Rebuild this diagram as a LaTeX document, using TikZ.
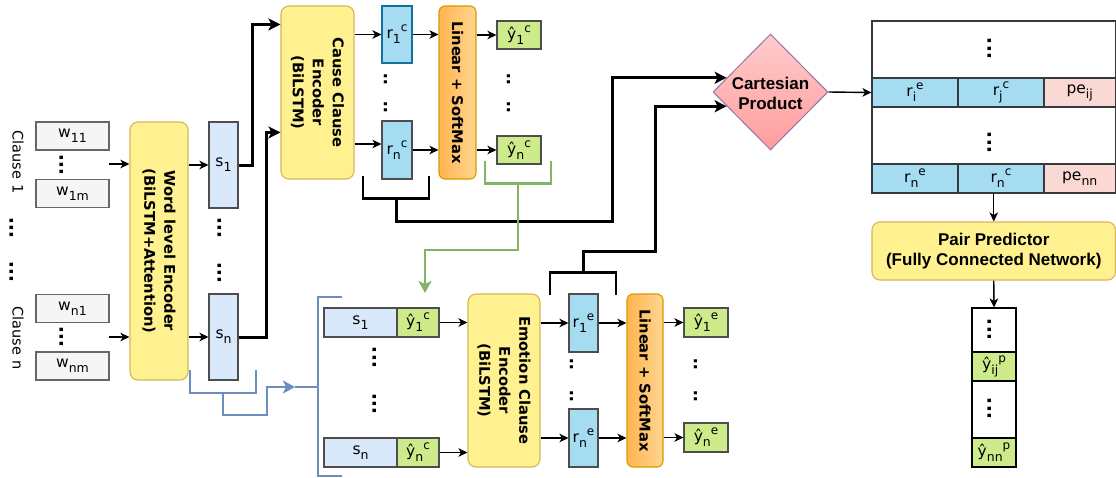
\documentclass[tikz,border=0pt]{standalone}
\usepackage{fontspec}
\setmainfont{DejaVu Sans}
\newfontfamily\helv{Liberation Sans}
\usetikzlibrary{arrows.meta,shapes.geometric,calc}
\definecolor{wfill}{HTML}{F5F5F5}
\definecolor{wdraw}{HTML}{666666}
\definecolor{sfill}{HTML}{DAE8FC}
\definecolor{dgray}{HTML}{4D4D4D}
\definecolor{rfill}{HTML}{A5DCF2}
\definecolor{rdraw}{HTML}{10739E}
\definecolor{gfill}{HTML}{CDEB8B}
\definecolor{gdraw}{HTML}{36393D}
\definecolor{pefill}{HTML}{FAD9D5}
\definecolor{yfill}{HTML}{FFF18F}
\definecolor{ydraw}{HTML}{D6B656}
\definecolor{oleft}{HTML}{FFB54F}
\definecolor{oright}{HTML}{FFD590}
\definecolor{odraw}{HTML}{D79B00}
\definecolor{ctop}{HTML}{FFCCCC}
\definecolor{cbot}{HTML}{FF9C9C}
\definecolor{cdraw}{HTML}{9673A6}
\definecolor{bline}{HTML}{6C8EBF}
\definecolor{gline}{HTML}{82B366}
\newcommand\mysub[1]{\raisebox{-0.32em}{\fontsize{12.5}{12.5}\selectfont #1}}
\newcommand\mysup[1]{\raisebox{0.45em}{\fontsize{12}{12}\selectfont #1}}
\tikzset{
  lbl/.style={font=\fontsize{15.5}{18}\selectfont, inner sep=0},
  clbl/.style={font=\fontsize{14.5}{18}\selectfont, inner sep=0},
  box/.style={lbl, line width=1.1, minimum width=#1},
  wbox/.style={box=73, draw=wdraw, fill=wfill, minimum height=28},
  sbox/.style={box=29, draw=dgray, fill=sfill},
  rbox/.style={box=30, draw=dgray, fill=rfill},
  gbox/.style={box=44, draw=dgray, fill=gfill, minimum height=29},
  ybox/.style={draw=ydraw, fill=yfill, line width=1.1, rounded corners=8, inner sep=0},
  obox/.style={draw=odraw, left color=oleft, right color=oright, line width=1.1, rounded corners=6, inner sep=0},
  btxt/.style={font=\bfseries\fontsize{14.7}{20}\selectfont, align=center, rotate=-90, inner sep=0},
  htxt/.style={font=\helv\bfseries\fontsize{17}{20}\selectfont, align=center, inner sep=0},
  vdot/.style={font=\bfseries\fontsize{19}{19}\selectfont, rotate=90, inner sep=0},
  cdot/.style={font=\bfseries\fontsize{17}{17}\selectfont, rotate=90, inner sep=0},
  arr/.style={line width=1.4, -{Stealth[length=9pt,width=8.5pt,inset=2.5pt]}},
  tarr/.style={line width=3, -{Stealth[length=12pt,width=12pt,inset=3pt]}},
  brk/.style={line width=2.8},
  gbrk/.style={line width=2.6, draw=gline},
  garr/.style={line width=2.6, draw=gline, -{Stealth[length=12pt,width=13pt,inset=3pt]}, color=gline},
  bbrk/.style={line width=2.6, draw=bline},
  barr/.style={line width=2.6, draw=bline, -{Stealth[length=12pt,width=13pt,inset=3pt]}, color=bline},
}
\begin{document}
\begin{tikzpicture}[x=1pt,y=-1pt]
\useasboundingbox (0,0) rectangle (1116,477);

% ---- clauses
\node[clbl, rotate=-90] (cl1) at (18,162) {Clause 1};
\node[clbl, rotate=-90] (cln) at (18,338) {Clause n};
\node[vdot] (ld1) at (12,228) {...};
\node[vdot] (ld2) at (12,272) {...};
\node[wbox] (w11) at (72.5,136) {w\mysub{11}};
\node[wbox] (w1m) at (72.5,193.5) {w\mysub{1m}};
\node[wbox] (wn1) at (72.5,308.5) {w\mysub{n1}};
\node[wbox] (wnm) at (72.5,366) {w\mysub{nm}};
\node[vdot] (wd1) at (62,165) {...};
\node[vdot] (wd2) at (62,337) {...};

% ---- word level encoder
\node[ybox, minimum width=58, minimum height=258] (wenc) at (159,251) {};
\node[btxt] (wenct) at (wenc.center) {Word level Encoder\\(BiLSTM+Attention)};
\node[sbox, minimum height=86] (s1) at (223.5,165) {s\mysub{1}};
\node[sbox, minimum height=86] (sn) at (223.5,337) {s\mysub{n}};
\node[vdot] (sd1) at (220,228) {...};
\node[vdot] (sd2) at (220,273) {...};

% ---- cause branch
\node[ybox, minimum width=73, minimum height=173] (cause) at (317.5,92.5) {};
\node[btxt] (causet) at (cause.center) {Cause Clause\\Encoder\\(BiLSTM)};
\node[rbox, draw=rdraw, minimum height=57] (r1c) at (397,34.5) {r\mysub{1}\mysup{c}};
\node[rbox, minimum height=58] (rnc) at (397,150) {r\mysub{n}\mysup{c}};
\node[cdot] (rcd1) at (386,79.5) {..};
\node[cdot] (rcd2) at (386,107.5) {..};
\node[obox, minimum width=37, minimum height=173] (lin1) at (457.5,92.5) {};
\node[btxt] (lin1t) at (lin1.center) {Linear + SoftMax};
\node[gbox, minimum height=28] (y1c) at (519,35) {ŷ\mysub{1}\mysup{c}};
\node[gbox, minimum height=28] (ync) at (519,150) {ŷ\mysub{n}\mysup{c}};
\node[cdot] (ycd1) at (509,79.5) {..};
\node[cdot] (ycd2) at (509,107.5) {..};

% ---- cartesian product
\node[diamond, draw=cdraw, top color=ctop, bottom color=cbot, line width=1, minimum width=115, minimum height=116, inner sep=0] (cart) at (770.5,92) {};
\node[htxt] (cartt) at (770.5,93) {Cartesian\\Product};

% ---- pair table
\node[draw=gdraw, fill=white, line width=1.1, minimum width=243.5, minimum height=172, inner sep=0] (tbl) at (993.75,107) {};
\node[box=86, draw=gdraw, fill=rfill, minimum height=29] (rie) at (915,92.5) {r\mysub{i}\mysup{e}};
\node[box=86, draw=gdraw, fill=rfill, minimum height=29] (rjc) at (1001,92.5) {r\mysub{j}\mysup{c}};
\node[box=71.5, draw=gdraw, fill=pefill, minimum height=29] (peij) at (1079.75,92.5) {pe\mysub{ij}};
\node[box=86, draw=gdraw, fill=rfill, minimum height=29] (rne2) at (915,178.5) {r\mysub{n}\mysup{e}};
\node[box=86, draw=gdraw, fill=rfill, minimum height=29] (rnc2) at (1001,178.5) {r\mysub{n}\mysup{c}};
\node[box=71.5, draw=gdraw, fill=pefill, minimum height=29] (penn) at (1079.75,178.5) {pe\mysub{nn}};
\node[vdot] (td1) at (990,48.5) {...};
\node[vdot] (td2) at (990,142.5) {...};

% ---- pair predictor
\node[ybox, minimum width=243.5, minimum height=58] (pp) at (993.75,251) {};
\node[htxt] (ppt) at (pp.center) {Pair Predictor\\(Fully Connected Network)};
\node[box=44, draw=black, fill=white, minimum height=44] (pc1) at (994,330) {};
\node[box=44, draw=black, fill=gfill, minimum height=29] (pc2) at (994,366.5) {ŷ\mysub{ij}\mysup{p}};
\node[box=44, draw=black, fill=white, minimum height=57] (pc3) at (994,409.5) {};
\node[box=44, draw=black, fill=gfill, minimum height=29] (pc4) at (994,452.5) {ŷ\mysub{nn}\mysup{p}};
\node[vdot] (pd1) at (990,329.5) {...};
\node[vdot] (pd2) at (990,408.5) {...};

% ---- emotion branch
\node[sbox, minimum width=73, minimum height=29] (bs1) at (360.5,322.5) {s\mysub{1}};
\node[gbox, minimum width=42] (by1) at (418,322.5) {ŷ\mysub{1}\mysup{c}};
\node[sbox, minimum width=73, minimum height=29] (bsn) at (360.5,452.5) {s\mysub{n}};
\node[gbox, minimum width=42] (byn) at (418,452.5) {ŷ\mysub{n}\mysup{c}};
\node[vdot] (bd1) at (375,357.5) {...};
\node[vdot] (bd2) at (375,404) {...};
\node[ybox, minimum width=72, minimum height=173] (emo) at (504,380.5) {};
\node[btxt] (emot) at (emo.center) {Emotion Clause\\Encoder\\(BiLSTM)};
\node[rbox, minimum width=29, minimum height=58] (r1e) at (583.5,323) {r\mysub{1}\mysup{e}};
\node[rbox, minimum width=29, minimum height=58] (rne) at (583.5,438) {r\mysub{n}\mysup{e}};
\node[cdot] (red1) at (572,364) {..};
\node[cdot] (red2) at (572,396) {..};
\node[obox, minimum width=36, minimum height=173] (lin2) at (645,380.5) {};
\node[btxt] (lin2t) at (lin2.center) {Linear + SoftMax};
\node[gbox] (y1e) at (706,322.5) {ŷ\mysub{1}\mysup{e}};
\node[gbox] (yne) at (706,437.5) {ŷ\mysub{n}\mysup{e}};
\node[cdot] (yed1) at (696,364) {..};
\node[cdot] (yed2) at (696,396) {..};

% ---- connectors (left)
\coordinate (c1) at (109,164);
\coordinate (cn) at (109,337);
\draw[arr] (c1) -- (c1 -| wenc.west);
\draw[arr] (cn) -- (cn -| wenc.west);
\draw[arr] (wenc.east |- s1) -- (s1.west);
\draw[arr] (wenc.east |- sn) -- (sn.west);
\draw[tarr] (s1.east) -- ++(14,0) |- ($(cause.north west)+(0,19)$);
\draw[tarr] (sn.east) -- ++(28,0) |- ($(cause.north west)+(0,127)$);

% cause
\draw[arr] (cause.east |- r1c) -- (r1c.west);
\draw[arr] ($(cause.east |- rnc)+(0,-6)$) -- ($(rnc.west)+(0,-6)$);
\draw[arr] (r1c.east) -- (r1c.east -| lin1.west);
\draw[arr] (rnc.east) -- (rnc.east -| lin1.west);
\draw[arr] (lin1.east |- y1c) -- (y1c.west);
\draw[arr] (lin1.east |- ync) -- (ync.west);

% cause bracket -> cartesian
\draw[brk] ($(rnc.south)+(-34,-4)$) -- ++(0,23) -- ++(66,0) -- ++(0,-23);
\coordinate (cbr) at ($(rnc.south)+(-1,19)$);
\coordinate (cv1) at (612,221);
\draw[tarr] (cbr) |- (cv1) |- (cart.162);

% emotion bracket -> cartesian
\draw[brk] ($(r1e.north)+(-33.5,2)$) -- ++(0,-23) -- ++(66,0) -- ++(0,23);
\coordinate (ebr) at ($(r1e.north)+(-0.5,-21)$);
\coordinate (ev1) at (655,251);
\draw[tarr] (ebr) |- (ev1) |- (cart.198);

% right side
\draw[arr] (cart.east) -- (rie.west);
\draw[arr] (tbl.south) -- (pp.north);
\draw[arr] (pp.south) -- (pc1.north);

% green feedback
\draw[gbrk] ($(ync.south)+(-34,-4)$) -- ++(0,23) -- ++(66,0) -- ++(0,-23);
\coordinate (gst) at ($(ync.south)+(-1,19)$);
\coordinate (gv) at (518,250);
\coordinate (gend) at (425,293);
\draw[garr] (gst) -- (gv) -| (gend);

% blue feedback
\draw[bbrk] (190,370) -- (190,393) -- (256,393) -- (256,370);
\coordinate (bst) at (223,393);
\coordinate (bv1) at (223,415);
\coordinate (bv2) at (267,387);
\coordinate (bend) at (295,387);
\draw[barr] (bst) -- (bv1) -| (bv2) -- (bend);
\draw[bbrk] (342,297) -- (318,297) -- (318,476) -- (342,476);
\draw[bbrk] (bend) -- (318,387);

% emotion arrows
\draw[arr] (by1.east) -- (by1.east -| emo.west);
\draw[arr] (byn.east) -- (byn.east -| emo.west);
\draw[arr] (emo.east |- r1e) -- (r1e.west);
\draw[arr] (emo.east |- rne) -- (rne.west);
\draw[arr] (r1e.east) -- (r1e.east -| lin2.west);
\draw[arr] (rne.east) -- (rne.east -| lin2.west);
\draw[arr] (lin2.east |- y1e) -- (y1e.west);
\draw[arr] (lin2.east |- yne) -- (yne.west);
\end{tikzpicture}
\end{document}
